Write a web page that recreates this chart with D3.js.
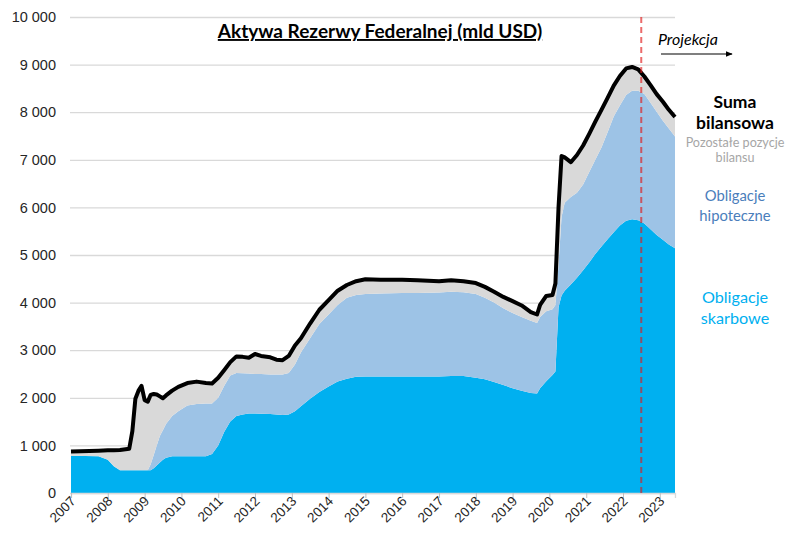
<!DOCTYPE html>
<html>
<head>
<meta charset="utf-8">
<script src="https://cdn.jsdelivr.net/npm/d3@7"></script>
<style>
  body { margin: 0; background: #fff; }
  svg { display: block; font-family: Lato, "Open Sans", sans-serif; }
</style>
</head>
<body>
<svg id="chart" width="800" height="547"></svg>
<script>
// odczyty z wykresu (mld USD)
const months = [
  "2007-01", "2007-10", "2008-01", "2008-03", "2008-05", "2008-08", "2008-09", "2008-10", "2008-11", "2008-12",
  "2009-01", "2009-02", "2009-03", "2009-04", "2009-05", "2009-06", "2009-07", "2009-08", "2009-10", "2009-12",
  "2010-03", "2010-06", "2010-09", "2010-11", "2011-01", "2011-03", "2011-05", "2011-07", "2011-09", "2011-11",
  "2012-01", "2012-03", "2012-06", "2012-08", "2012-10", "2012-12", "2013-02", "2013-04", "2013-07", "2013-10",
  "2014-01", "2014-04", "2014-07", "2014-10", "2015-01", "2015-06", "2016-01", "2016-06", "2017-01", "2017-05",
  "2017-09", "2018-01", "2018-04", "2018-07", "2018-10", "2019-01", "2019-04", "2019-07", "2019-09", "2019-10",
  "2019-12", "2020-02", "2020-03", "2020-04", "2020-05", "2020-06", "2020-08", "2020-10", "2020-12", "2021-02",
  "2021-04", "2021-06", "2021-08", "2021-10", "2021-12", "2022-02", "2022-04", "2022-06", "2022-08", "2022-10",
  "2022-12", "2023-02", "2023-04", "2023-06"
];
const treasury = [
  780, 770, 700, 560, 480, 480, 480, 480, 480, 480,
  480, 480, 480, 520, 580, 640, 700, 740, 770, 770,
  770, 770, 770, 820, 1000, 1280, 1500, 1620, 1650, 1670,
  1670, 1665, 1660, 1650, 1640, 1650, 1720, 1820, 1980, 2120,
  2240, 2340, 2400, 2440, 2450, 2450, 2450, 2450, 2450, 2460,
  2460, 2420, 2390, 2330, 2270, 2200, 2150, 2100, 2090, 2200,
  2350, 2480, 2550, 3900, 4150, 4250, 4380, 4520, 4680, 4850,
  5020, 5180, 5330, 5480, 5620, 5720, 5750, 5730, 5660, 5540,
  5420, 5320, 5220, 5140
];
const mbs = [
  0, 0, 0, 0, 0, 0, 0, 0, 0, 0,
  0, 0, 120, 280, 420, 560, 620, 710, 850, 950,
  1070, 1100, 1110, 1060, 1000, 970, 970, 900, 865, 840,
  830, 835, 830, 840, 850, 870, 980, 1130, 1270, 1430,
  1510, 1610, 1700, 1720, 1730, 1740, 1750, 1750, 1760, 1770,
  1760, 1760, 1710, 1670, 1610, 1580, 1550, 1520, 1480, 1500,
  1470, 1380, 1400, 900, 1650, 1850, 1840, 1790, 1800, 1900,
  1980, 2080, 2250, 2430, 2520, 2640, 2700, 2720, 2720, 2660,
  2590, 2500, 2440, 2350
];
const total = [
  870, 890, 900, 900, 905, 930, 1300, 1980, 2150, 2250,
  1950, 1920, 2060, 2080, 2070, 2030, 1990, 2050, 2150, 2230,
  2310, 2340, 2310, 2300, 2420, 2580, 2750, 2870, 2860, 2840,
  2920, 2880, 2850, 2800, 2790, 2880, 3100, 3250, 3560, 3850,
  4050, 4250, 4370, 4450, 4490, 4480, 4480, 4470, 4450, 4470,
  4450, 4410, 4330, 4230, 4120, 4030, 3940, 3800, 3750, 3950,
  4140, 4160, 4400, 6000, 7080, 7050, 6950, 7100, 7300, 7550,
  7800, 8050, 8300, 8560, 8760, 8920, 8950, 8900, 8750, 8570,
  8380, 8220, 8050, 7900
];
const yTicks = [0, 1000, 2000, 3000, 4000, 5000, 6000, 7000, 8000, 9000, 10000];
const projectionStart = "2022-07";

const parseMonth = d3.timeParse("%Y-%m");
const fmt = d3.formatLocale({ decimal: ",", thousands: " ", grouping: [3], currency: ["", ""] }).format(",");

const margin = { left: 71, right: 675, top: 17, bottom: 493 };
const svg = d3.select("#chart");

const data = months.map((m, i) => ({
  date: parseMonth(m),
  treasury: treasury[i],
  mbs: mbs[i],
  other: total[i] - treasury[i] - mbs[i],
  total: total[i],
}));

const x = d3.scaleTime()
  .domain([parseMonth("2007-01"), parseMonth("2023-06")])
  .range([margin.left, margin.right]);
const y = d3.scaleLinear().domain([0, 10000]).range([margin.bottom, margin.top]);

/** siatka + oś Y **/
svg.append("g")
  .attr("transform", `translate(70,0)`)
  .call(d3.axisLeft(y).tickValues(yTicks).tickFormat(fmt).tickSize(-(margin.right - 70)).tickPadding(14))
  .call((g) => {
    g.select(".domain").remove();
    g.selectAll(".tick line").attr("stroke", "#d9d9d9").attr("stroke-width", 1.3);
    g.selectAll(".tick text").attr("fill", "#262626").attr("font-size", 14.5);
  });

/** warstwy **/
const stack = d3.stack().keys(["treasury", "mbs", "other"])(data);
const colors = { treasury: "#00b0f0", mbs: "#9dc3e6", other: "#d9d9d9" };
const area = d3.area()
  .x((d) => x(d.data.date))
  .y0((d) => y(d[0]))
  .y1((d) => y(d[1]));

svg.append("g")
  .selectAll("path")
  .data(stack)
  .join("path")
  .attr("fill", (s) => colors[s.key])
  .attr("d", area);

/** oś X **/
svg.append("g")
  .attr("transform", `translate(0,${margin.bottom})`)
  .call(d3.axisBottom(x).ticks(d3.timeYear.every(1)).tickFormat(d3.timeFormat("%Y")).tickSize(5))
  .call((g) => {
    g.select(".domain").attr("stroke", "#d9d9d9").attr("stroke-width", 1.3);
    g.selectAll(".tick line").attr("stroke", "#bfbfbf");
    g.selectAll(".tick text")
      .attr("fill", "#262626")
      .attr("font-size", 13.5)
      .attr("text-anchor", "end")
      .attr("y", 0)
      .attr("dy", 0)
      .attr("transform", "translate(5,9) rotate(-45)");
  });

/** suma bilansowa **/
svg.append("path")
  .datum(data)
  .attr("fill", "none")
  .attr("stroke", "#000")
  .attr("stroke-width", 4)
  .attr("stroke-linejoin", "round")
  .attr("d", d3.line().x((d) => x(d.date)).y((d) => y(d.total)));

/** projekcja **/
const px = x(parseMonth(projectionStart));
svg.append("line")
  .attr("x1", px).attr("x2", px)
  .attr("y1", y(10000)).attr("y2", y(0))
  .attr("stroke", "#e01b1b")
  .attr("stroke-opacity", 0.65)
  .attr("stroke-width", 2)
  .attr("stroke-dasharray", "6,4");

svg.append("defs").append("marker")
  .attr("id", "arrow")
  .attr("viewBox", "0 0 10 10")
  .attr("refX", 9).attr("refY", 5)
  .attr("markerWidth", 6).attr("markerHeight", 6)
  .attr("orient", "auto")
  .append("path").attr("d", "M0,1L10,5L0,9Z").attr("fill", "#000");

svg.append("line")
  .attr("x1", 661).attr("x2", 732)
  .attr("y1", 54).attr("y2", 54)
  .attr("stroke", "#000").attr("stroke-width", 1.2)
  .attr("marker-end", "url(#arrow)");

svg.append("text")
  .attr("x", 658).attr("y", 45)
  .attr("font-size", 16).attr("font-style", "italic")
  .attr("fill", "#000")
  .text("Projekcja");

/** tytuł **/
svg.append("text")
  .attr("x", 380).attr("y", 38)
  .attr("text-anchor", "middle")
  .attr("font-size", 19).attr("font-weight", "bold")
  .attr("fill", "#000")
  .style("text-decoration", "underline")
  .text("Aktywa Rezerwy Federalnej (mld USD)");

/** etykiety serii **/
const labels = [
  { lines: ["Suma", "bilansowa"], y: 108, dy: 21, size: 17.5, weight: "bold", color: "#000" },
  { lines: ["Pozostałe pozycje", "bilansu"], y: 147, dy: 15, size: 12.6, weight: "normal", color: "#a6a6a6" },
  { lines: ["Obligacje", "hipoteczne"], y: 201, dy: 20, size: 14.8, weight: "normal", color: "#4a7ebb" },
  { lines: ["Obligacje", "skarbowe"], y: 303, dy: 21, size: 16.2, weight: "normal", color: "#00b0f0" },
];
labels.forEach((l) => {
  const t = svg.append("text")
    .attr("text-anchor", "middle")
    .attr("font-size", l.size)
    .attr("font-weight", l.weight)
    .attr("fill", l.color);
  l.lines.forEach((line, i) => {
    t.append("tspan").attr("x", 735).attr("y", l.y + i * l.dy).text(line);
  });
});
</script>
</body>
</html>
